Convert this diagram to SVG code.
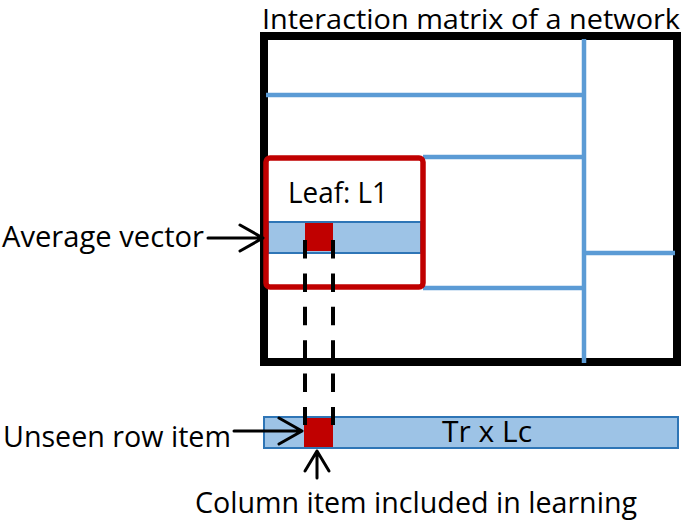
<svg xmlns="http://www.w3.org/2000/svg" width="685" height="521" viewBox="0 0 685 521">
<style>
.t{font-family:"Open Sans","Liberation Sans",sans-serif;fill:#000;}
.grid{stroke:#5B9BD5;stroke-width:4.5;fill:none;}
.band{fill:#9DC3E6;stroke:#2E75B6;stroke-width:2;}
.cell{fill:#C00000;}
.arr{stroke:#000;stroke-width:3;fill:none;stroke-linecap:round;stroke-linejoin:round;}
.dash{stroke:#000;stroke-width:4;fill:none;stroke-dasharray:18.5 14.9;}
</style>
<rect width="685" height="521" fill="#fff"/>
<g id="matrix">
<rect x="264" y="36" width="413" height="326" fill="#fff" stroke="#000" stroke-width="8"/>
<text class="t" x="262" y="28.5" font-size="27" textLength="418" lengthAdjust="spacingAndGlyphs">Interaction matrix of a network</text>
</g>
<g id="partition-lines">
<line class="grid" x1="584" y1="39" x2="584" y2="363"/>
<line class="grid" x1="266" y1="95" x2="584" y2="95"/>
<line class="grid" x1="423" y1="157" x2="584" y2="157"/>
<line class="grid" x1="584" y1="253" x2="675" y2="253"/>
<line class="grid" x1="423" y1="288" x2="584" y2="288"/>
</g>
<g id="leaf">
<rect class="band" x="268" y="222" width="153" height="31"/>
<rect class="cell" x="305" y="223" width="28" height="28"/>
<rect x="266" y="158" width="157" height="129" rx="4" fill="none" stroke="#C00000" stroke-width="5.5"/>
<text class="t" x="288" y="203" font-size="29" textLength="100" lengthAdjust="spacingAndGlyphs">Leaf: L1</text>
</g>
<g id="test-row">
<rect class="band" x="264" y="417" width="414" height="31"/>
<rect class="cell" x="304" y="418" width="29" height="29"/>
<text class="t" x="442" y="442" font-size="29" textLength="90" lengthAdjust="spacingAndGlyphs">Tr x Lc</text>
</g>
<g id="label-average">
<text class="t" x="2" y="247" font-size="29" textLength="202" lengthAdjust="spacingAndGlyphs">Average vector</text>
</g>
<g id="label-unseen">
<text class="t" x="3" y="447" font-size="29" textLength="228" lengthAdjust="spacingAndGlyphs">Unseen row item</text>
</g>
<g id="label-column">
<text class="t" x="195" y="513" font-size="29" textLength="442" lengthAdjust="spacingAndGlyphs">Column item included in learning</text>
</g>
<g id="connectors">
<line class="dash" x1="305" y1="240" x2="305" y2="425"/>
<line class="dash" x1="333" y1="240" x2="333" y2="425"/>
<path class="arr" d="M208 238 H263 M240 225 L263 238 L240 251"/>
<path class="arr" d="M234 431 H302 M279 418 L302 431 L279 444"/>
<path class="arr" d="M317 478 V451 M305 471 L317 451 L329 471"/>
</g>
</svg>
